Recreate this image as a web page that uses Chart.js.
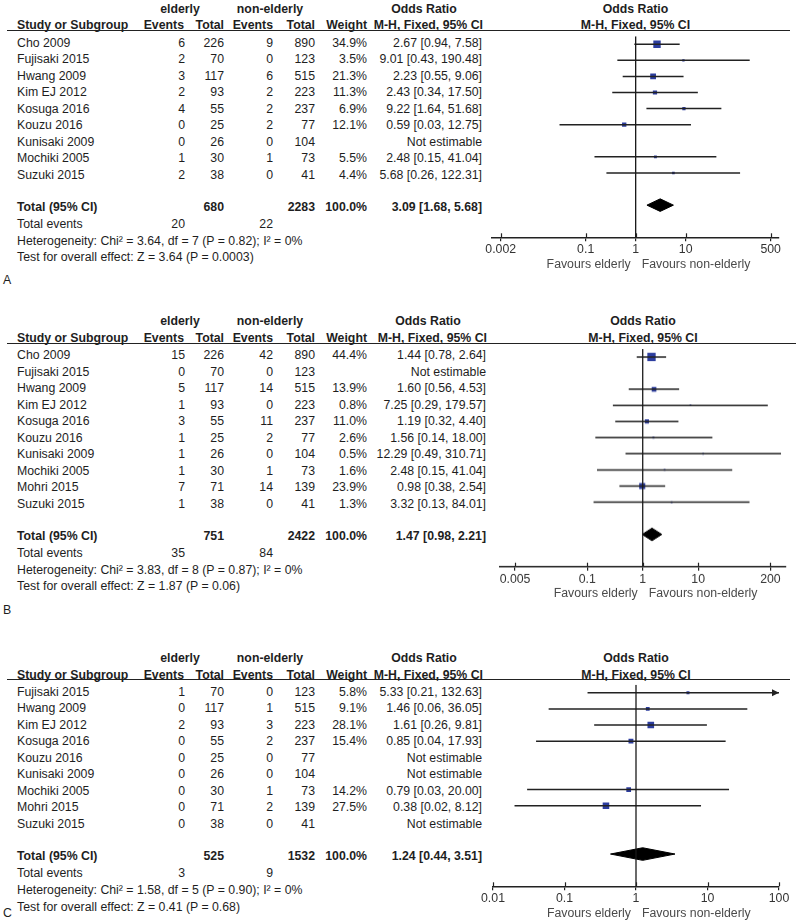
<!DOCTYPE html>
<html><head><meta charset="utf-8">
<script src="https://cdn.jsdelivr.net/npm/chart.js@4.4.1/dist/chart.umd.min.js"></script>
<style>
html,body{margin:0;padding:0;background:#fff;}
#root{position:relative;width:800px;height:923px;overflow:hidden;font-family:"Liberation Sans",Arial,sans-serif;font-size:12.3px;color:#1e1e1e;}
.t{position:absolute;white-space:nowrap;line-height:16px;}
.b{font-weight:bold;}
.hl{position:absolute;height:0;border-top:1.4px solid #222;}
.cw{position:absolute;}
</style></head><body><div id="root"></div>
<script>
// ---------- Panel A ----------
const studiesA = ["Cho 2009","Fujisaki 2015","Hwang 2009","Kim EJ 2012","Kosuga 2016","Kouzu 2016","Kunisaki 2009","Mochiki 2005","Suzuki 2015"];
const eventsElderlyA = [6,2,3,2,4,0,0,1,2];
const totalElderlyA = [226,70,117,93,55,25,26,30,38];
const eventsNonA = [9,0,6,2,2,2,0,1,0];
const totalNonA = [890,123,515,223,237,77,104,73,41];
const weightA = [34.9,3.5,21.3,11.3,6.9,12.1,null,5.5,4.4];
const orA = [2.67,9.01,2.23,2.43,9.22,0.59,null,2.48,5.68];
const loA = [0.94,0.43,0.55,0.34,1.64,0.03,null,0.15,0.26];
const hiA = [7.58,190.48,9.06,17.50,51.68,12.75,null,41.04,122.31];
const totalsA = {nE:680, nN:2283, evE:20, evN:22, or:3.09, lo:1.68, hi:5.68};
const hetA = "Heterogeneity: Chi\u00b2 = 3.64, df = 7 (P = 0.82); I\u00b2 = 0%";
const testA = "Test for overall effect: Z = 3.64 (P = 0.0003)";
const ticksA = [0.002,0.1,1,10,500];

// ---------- Panel B ----------
const studiesB = ["Cho 2009","Fujisaki 2015","Hwang 2009","Kim EJ 2012","Kosuga 2016","Kouzu 2016","Kunisaki 2009","Mochiki 2005","Mohri 2015","Suzuki 2015"];
const eventsElderlyB = [15,0,5,1,3,1,1,1,7,1];
const totalElderlyB = [226,70,117,93,55,25,26,30,71,38];
const eventsNonB = [42,0,14,0,11,2,0,1,14,0];
const totalNonB = [890,123,515,223,237,77,104,73,139,41];
const weightB = [44.4,null,13.9,0.8,11.0,2.6,0.5,1.6,23.9,1.3];
const orB = [1.44,null,1.60,7.25,1.19,1.56,12.29,2.48,0.98,3.32];
const loB = [0.78,null,0.56,0.29,0.32,0.14,0.49,0.15,0.38,0.13];
const hiB = [2.64,null,4.53,179.57,4.40,18.00,310.71,41.04,2.54,84.01];
const totalsB = {nE:751, nN:2422, evE:35, evN:84, or:1.47, lo:0.98, hi:2.21};
const hetB = "Heterogeneity: Chi\u00b2 = 3.83, df = 8 (P = 0.87); I\u00b2 = 0%";
const testB = "Test for overall effect: Z = 1.87 (P = 0.06)";
const ticksB = [0.005,0.1,1,10,200];

// ---------- Panel C ----------
const studiesC = ["Fujisaki 2015","Hwang 2009","Kim EJ 2012","Kosuga 2016","Kouzu 2016","Kunisaki 2009","Mochiki 2005","Mohri 2015","Suzuki 2015"];
const eventsElderlyC = [1,0,2,0,0,0,0,0,0];
const totalElderlyC = [70,117,93,55,25,26,30,71,38];
const eventsNonC = [0,1,3,2,0,0,1,2,0];
const totalNonC = [123,515,223,237,77,104,73,139,41];
const weightC = [5.8,9.1,28.1,15.4,null,null,14.2,27.5,null];
const orC = [5.33,1.46,1.61,0.85,null,null,0.79,0.38,null];
const loC = [0.21,0.06,0.26,0.04,null,null,0.03,0.02,null];
const hiC = [132.63,36.05,9.81,17.93,null,null,20.00,8.12,null];
const totalsC = {nE:525, nN:1532, evE:3, evN:9, or:1.24, lo:0.44, hi:3.51};
const hetC = "Heterogeneity: Chi\u00b2 = 1.58, df = 5 (P = 0.90); I\u00b2 = 0%";
const testC = "Test for overall effect: Z = 0.41 (P = 0.68)";
const ticksC = [0.01,0.1,1,10,100];

// ---------- layout (not data) ----------
const panels = [
  {letter:"A", studies:studiesA, evE:eventsElderlyA, nE:totalElderlyA, evN:eventsNonA, nN:totalNonA, w:weightA, or:orA, lo:loA, hi:hiA, tot:totalsA, het:hetA, test:testA, ticks:ticksA,
   y0:30.7, letterY:280, ciRight:482, axisL:492, axisR:779, xMin:0.00134, xMax:734, lineEnd:790},
  {letter:"B", studies:studiesB, evE:eventsElderlyB, nE:totalElderlyB, evN:eventsNonB, nN:totalNonB, w:weightB, or:orB, lo:loB, hi:hiB, tot:totalsB, het:hetB, test:testB, ticks:ticksB,
   y0:343.3, letterY:609.5, ciRight:486, axisL:500, axisR:786, xMin:0.00268, xMax:382, lineEnd:796},
  {letter:"C", studies:studiesC, evE:eventsElderlyC, nE:totalElderlyC, evN:eventsNonC, nN:totalNonC, w:weightC, or:orC, lo:loC, hi:hiC, tot:totalsC, het:hetC, test:testC, ticks:ticksC,
   y0:680, letterY:913, ciRight:482, axisL:493, axisR:779, xMin:0.01, xMax:100, lineEnd:790}
];
const PITCH = 16.5;
const FONT = '"Liberation Sans", Arial, sans-serif';
const root = document.getElementById('root');

function txt(x, yc, s, align, bold, color){
  const d = document.createElement('div');
  d.className = 't' + (bold ? ' b' : '');
  d.textContent = s;
  d.style.top = (yc - 7.7) + 'px';
  if (align === 'right') { d.style.right = (800 - x) + 'px'; }
  else if (align === 'center') { d.style.left = (x - 150) + 'px'; d.style.width = '300px'; d.style.textAlign = 'center'; }
  else { d.style.left = x + 'px'; }
  if (color) d.style.color = color;
  root.appendChild(d);
}
const f2 = v => v.toFixed(2);
const ciText = (o,l,h) => `${f2(o)} [${f2(l)}, ${f2(h)}]`;

const COL = {name:17, evE:185, nE:224, evN:273, nN:315, w:367};

panels.forEach(p => {
  const n = p.studies.length;
  const y0 = p.y0;
  // header
  const h1 = y0 - 22.4, h2 = y0 - 5.7;
  txt(180, h1, "elderly", 'center', true);
  txt(270, h1, "non-elderly", 'center', true);
  txt(p.ciRight - 58, h1, "Odds Ratio", 'center', true);
  const mid = (p.axisL + p.axisR) / 2;
  txt(mid, h1, "Odds Ratio", 'center', true);
  txt(COL.name, h2, "Study or Subgroup", 'left', true);
  txt(COL.evE - 1, h2, "Events", 'right', true);
  txt(COL.nE, h2, "Total", 'right', true);
  txt(COL.evN, h2, "Events", 'right', true);
  txt(COL.nN, h2, "Total", 'right', true);
  txt(COL.w, h2, "Weight", 'right', true);
  txt(p.ciRight + 1, h2, "M-H, Fixed, 95% CI", 'right', true);
  txt(mid, h2, "M-H, Fixed, 95% CI", 'center', true);
  const hl = document.createElement('div');
  hl.className = 'hl';
  hl.style.left = '7px'; hl.style.width = (p.lineEnd - 7) + 'px'; hl.style.top = (y0 - 0.7) + 'px';
  root.appendChild(hl);
  // rows
  for (let i = 0; i < n; i++) {
    const yc = y0 + 11.6 + PITCH * i;
    txt(COL.name, yc, p.studies[i], 'left');
    txt(COL.evE, yc, String(p.evE[i]), 'right');
    txt(COL.nE, yc, String(p.nE[i]), 'right');
    txt(COL.evN, yc, String(p.evN[i]), 'right');
    txt(COL.nN, yc, String(p.nN[i]), 'right');
    if (p.w[i] !== null) txt(COL.w, yc, p.w[i].toFixed(1) + '%', 'right');
    txt(p.ciRight, yc, p.or[i] === null ? "Not estimable" : ciText(p.or[i], p.lo[i], p.hi[i]), 'right');
  }
  const yt = y0 + 11.6 + PITCH * (n + 1) - 1;
  txt(COL.name, yt, "Total (95% CI)", 'left', true);
  txt(COL.nE, yt, String(p.tot.nE), 'right', true);
  txt(COL.nN, yt, String(p.tot.nN), 'right', true);
  txt(COL.w, yt, "100.0%", 'right', true);
  txt(p.ciRight, yt, ciText(p.tot.or, p.tot.lo, p.tot.hi), 'right', true);
  txt(COL.name, yt + 17, "Total events", 'left');
  txt(COL.evE, yt + 17, String(p.tot.evE), 'right');
  txt(COL.evN, yt + 17, String(p.tot.evN), 'right');
  txt(COL.name, yt + 34, p.het, 'left');
  txt(COL.name, yt + 50.7, p.test, 'left');
  txt(3, p.letterY, p.letter, 'left');

  // chart
  const chartH = PITCH * (n + 3.5);
  const wrap = document.createElement('div');
  wrap.className = 'cw';
  wrap.style.left = '460px'; wrap.style.top = y0 + 'px';
  wrap.style.width = '340px'; wrap.style.height = (chartH + 40) + 'px';
  const cv = document.createElement('canvas');
  wrap.appendChild(cv);
  root.appendChild(wrap);

  const datasets = [];
  datasets.push({type:'scatter', showLine:true, data:[{x:1,y:-0.5},{x:1,y:n+3}], borderColor:'#1a1a1a', borderWidth:1.3, pointRadius:0});
  for (let i = 0; i < n; i++) {
    if (p.or[i] === null) continue;
    datasets.push({type:'scatter', showLine:true, data:[{x:p.lo[i],y:i},{x:p.hi[i],y:i}], borderColor:'#222', borderWidth:1.5, pointRadius:0});
  }
  const pts = [];
  for (let i = 0; i < n; i++) if (p.or[i] !== null) pts.push({x:p.or[i], y:i, w:p.w[i]});
  datasets.push({type:'scatter', data:pts, pointStyle:'rect', backgroundColor:'#2c3d9f', borderWidth:0,
    pointRadius: ctx => (ctx.raw ? Math.max(1.8, 1.25 * Math.sqrt(ctx.raw.w)) : 2) / Math.SQRT2});
  const ty = n + 1, dh = 0.39;
  datasets.push({type:'scatter', showLine:true, fill:'shape', tension:0,
    data:[{x:p.tot.lo,y:ty},{x:p.tot.or,y:ty-dh},{x:p.tot.hi,y:ty},{x:p.tot.or,y:ty+dh},{x:p.tot.lo,y:ty}],
    borderColor:'#000', backgroundColor:'#000', borderWidth:1, pointRadius:0});

  const extras = {
    id:'extras' + p.letter,
    afterDraw(chart){
      const c = chart.ctx, xs = chart.scales.x, ys = chart.scales.y, a = chart.chartArea;
      c.save();
      // upper halves of tick marks
      c.strokeStyle = '#222'; c.lineWidth = 1.2;
      xs.ticks.forEach(t => {
        const px = Math.round(xs.getPixelForValue(t.value)) + 0.5;
        c.beginPath(); c.moveTo(px, a.bottom - 4); c.lineTo(px, a.bottom); c.stroke();
      });
      // arrows for intervals beyond axis
      c.fillStyle = '#222';
      for (let i = 0; i < n; i++) {
        if (p.hi[i] !== null && p.hi[i] > xs.max) {
          const yy = ys.getPixelForValue(i);
          c.beginPath(); c.moveTo(a.right, yy); c.lineTo(a.right - 7, yy - 3.5); c.lineTo(a.right - 7, yy + 3.5); c.closePath(); c.fill();
        }
      }
      // favours labels
      const x1 = xs.getPixelForValue(1);
      c.font = '12.3px ' + FONT; c.fillStyle = '#4a4a4a'; c.textBaseline = 'middle';
      c.textAlign = 'right'; c.fillText('Favours elderly', x1 - 5, a.bottom + 27.3);
      c.textAlign = 'left'; c.fillText('Favours non-elderly', x1 + 6, a.bottom + 27.3);
      c.restore();
    }
  };

  new Chart(cv, {
    type:'scatter',
    data:{datasets},
    options:{
      responsive:true, maintainAspectRatio:false, animation:false,
      layout:{padding:{left:p.axisL - 460, right:800 - p.axisR, top:0, bottom:20}},
      plugins:{legend:{display:false}, tooltip:{enabled:false}},
      events:[],
      scales:{
        x:{type:'logarithmic', min:p.xMin, max:p.xMax, bounds:'data',
           afterBuildTicks: s => { s.ticks = p.ticks.map(v => ({value:v})); },
           afterFit: s => { s.height = 20; },
           grid:{display:true, drawOnChartArea:false, drawTicks:true, tickLength:4, color:'#222', lineWidth:1.2},
           border:{display:true, color:'#222', width:1.4},
           ticks:{autoSkip:false, maxRotation:0, padding:1, color:'#333', font:{family:FONT, size:12.3}, callback: v => String(v)}},
        y:{type:'linear', min:-0.5, max:n + 3, reverse:true, bounds:'data', display:false}
      }
    },
    plugins:[extras]
  });
});
</script></body></html>
